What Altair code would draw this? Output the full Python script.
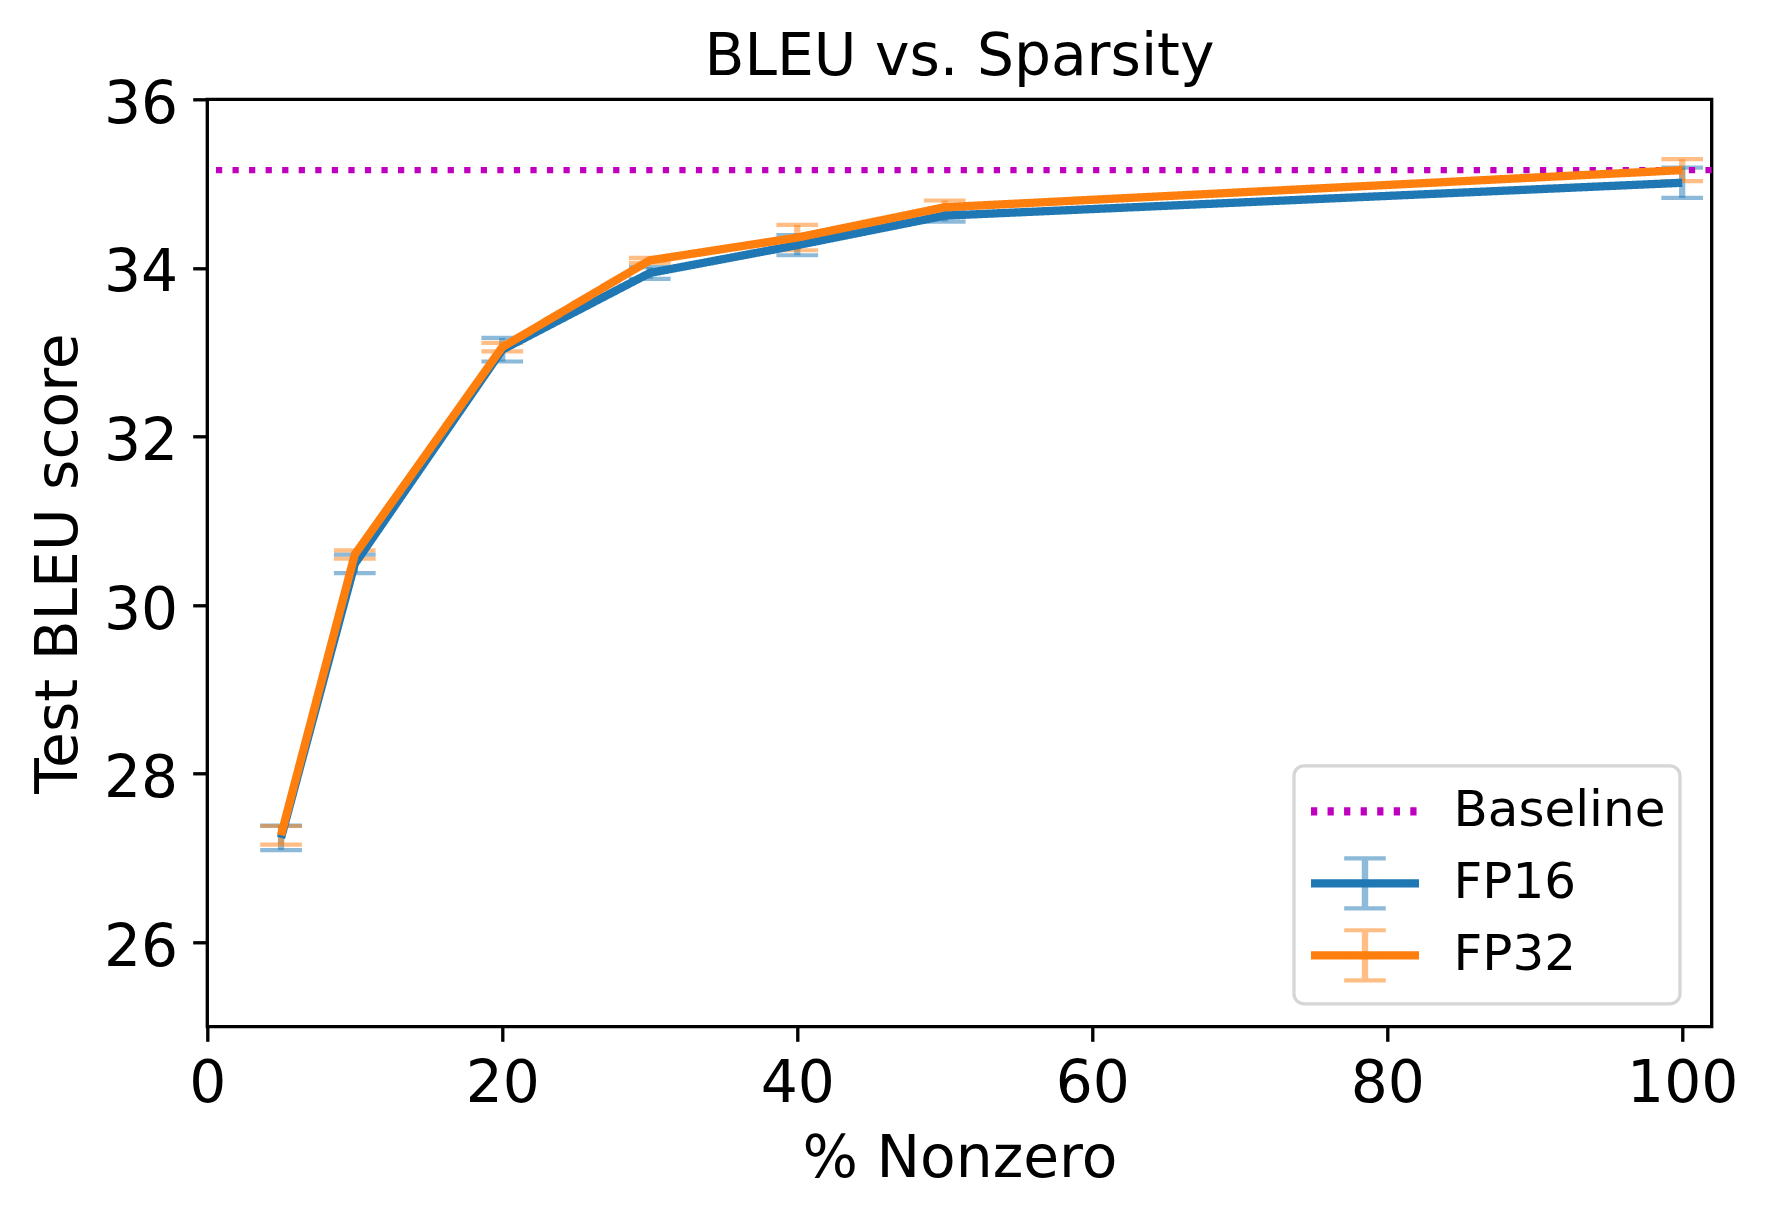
import altair as alt
import pandas as pd

# ---- data ----
nonzero = [5, 10, 20, 30, 40, 50, 100]
fp16_mean = [27.24, 30.49, 33.03, 33.94, 34.27, 34.62, 35.01]
fp16_err = [0.145, 0.11, 0.14, 0.07, 0.12, 0.07, 0.18]
fp32_mean = [27.27, 30.60, 33.06, 34.09, 34.36, 34.72, 35.16]
fp32_err = [0.11, 0.05, 0.05, 0.03, 0.15, 0.08, 0.13]
baseline = [35.16]
series_names = ["Baseline", "FP16", "FP32"]
series_colors = ["#bf00bf", "#1f77b4", "#ff7f0e"]
x_ticks = [0, 20, 40, 60, 80, 100]
y_ticks = [26, 28, 30, 32, 34, 36]

rows = []
caps = []
for name, means, errs in [("FP16", fp16_mean, fp16_err), ("FP32", fp32_mean, fp32_err)]:
    for x, m, e in zip(nonzero, means, errs):
        rows.append({"series": name, "nonzero": x, "bleu": m, "lo": m - e, "hi": m + e})
        caps.append({"series": name, "nonzero": x, "cap": m - e})
        caps.append({"series": name, "nonzero": x, "cap": m + e})
lines_df = pd.DataFrame(rows)
caps_df = pd.DataFrame(caps)
base_df = pd.DataFrame({"series": ["Baseline"] * len(baseline), "bleu": baseline})

FONT = "DejaVu Sans"
LW_LINE = 8.3
LW_BASE = 6.25
LW_ERR = 6.25

xscale = alt.Scale(domain=[0, 102], nice=False, zero=False)
yscale = alt.Scale(domain=[25, 36], nice=False, zero=False)

xaxis = alt.Axis(values=x_ticks, format="d", title="% Nonzero", grid=False, domain=False,
                 tickSize=14.6, tickWidth=3.33, tickColor="black",
                 labelFontSize=58.3, labelFont=FONT, labelColor="black",
                 labelPadding=14, labelFlush=False,
                 titleFontSize=58.3, titleFont=FONT, titleFontWeight="normal",
                 titleColor="black", titleBaseline="alphabetic", titleY=149.5)
yaxis = alt.Axis(values=y_ticks, format="d", title="Test BLEU score", grid=False, domain=False,
                 tickSize=14.6, tickWidth=3.33, tickColor="black",
                 labelFontSize=58.3, labelFont=FONT, labelColor="black",
                 labelPadding=15, labelFlush=False, labelOffset=6,
                 titleFontSize=58.3, titleFont=FONT, titleFontWeight="normal",
                 titleColor="black", titleBaseline="alphabetic", titleAngle=270,
                 titleAlign="center", titleX=-131, titleY=463.7)

LEG_X = 1086.7
LEG_Y = 667.5

legend_main = alt.Legend(title=" ", titleOrient="bottom", titleFontSize=1, titlePadding=8,
                         orient="none", legendX=LEG_X, legendY=LEG_Y - 1,
                         symbolType="M-2,0H2", symbolSize=2916, symbolStrokeWidth=LW_LINE,
                         symbolOffset=25.5, labelOffset=57, labelFontSize=50,
                         labelFont=FONT, labelColor="black", labelLimit=600,
                         padding=14, rowPadding=15, strokeColor="#d6d6d6",
                         cornerRadius=10)

legend_err = alt.Legend(title=None, orient="none", legendX=LEG_X, legendY=LEG_Y,
                        symbolType="M-0.736,-0.885H0.736M-0.736,0.885H0.736M-0.04,-0.885V0.885M0.04,-0.885V0.885",
                        symbolSize=3192.25, symbolStrokeWidth=4.17, symbolOpacity=0.5,
                        symbolOffset=26.5, labelOffset=59, labelFontSize=50,
                        labelFont=FONT, labelColor="rgba(0,0,0,0)", labelLimit=600,
                        padding=14, rowPadding=5)

color_main = alt.Color("series:N", scale=alt.Scale(domain=series_names, range=series_colors),
                       legend=legend_main)
dash_main = alt.StrokeDash("series:N",
                           scale=alt.Scale(domain=series_names,
                                           range=[[6.25, 10.3], [1, 0], [1, 0]]),
                           legend=legend_main)
color_err = alt.Color("series:N",
                      scale=alt.Scale(domain=series_names,
                                      range=["rgba(0,0,0,0)", series_colors[1], series_colors[2]]),
                      legend=legend_err)

# error bars (vertical lines + caps)
err_rule = alt.Chart(lines_df).mark_rule(strokeWidth=LW_ERR, opacity=0.5).encode(
    x=alt.X("nonzero:Q", scale=xscale, axis=xaxis),
    y=alt.Y("lo:Q", scale=yscale, axis=yaxis),
    y2="hi:Q",
    color=color_err,
)
err_caps = alt.Chart(caps_df).mark_point(shape="stroke", size=1739, strokeWidth=4.17,
                                         opacity=0.5, filled=False).encode(
    x=alt.X("nonzero:Q", scale=xscale),
    y=alt.Y("cap:Q", scale=yscale),
    color=color_err,
)
err_layer = alt.layer(err_rule, err_caps)

# baseline + mean lines
base_rule = alt.Chart(base_df).mark_rule(strokeWidth=LW_BASE).encode(
    y=alt.Y("bleu:Q", scale=yscale),
    color=color_main,
    strokeDash=dash_main,
)
mean_lines = alt.Chart(lines_df).mark_line(strokeWidth=LW_LINE).encode(
    x=alt.X("nonzero:Q", scale=xscale, axis=xaxis),
    y=alt.Y("bleu:Q", scale=yscale, axis=yaxis),
    color=color_main,
    strokeDash=dash_main,
)
main_layer = alt.layer(base_rule, mean_lines)

chart = alt.layer(err_layer, main_layer).resolve_scale(
    color="independent", strokeDash="independent"
).properties(
    width=1504.4,
    height=927.4,
    padding={"left": 199.3, "top": 91.3, "right": 40, "bottom": 180},
    autosize=alt.AutoSizeParams(type="none"),
    title=alt.Title("BLEU vs. Sparsity", fontSize=58.3, font=FONT, fontWeight="normal",
                    color="black", anchor="middle", frame="group", offset=-12),
).configure_view(stroke="black", strokeWidth=3.33).configure_legend(strokeWidth=3.3)

chart.save("out.html", embed_options={"renderer": "svg", "actions": False})
